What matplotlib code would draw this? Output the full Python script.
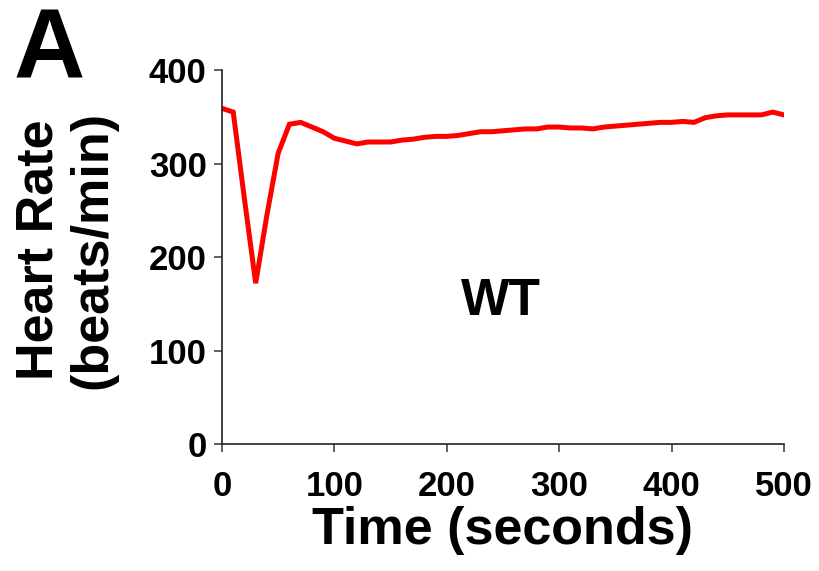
import matplotlib
matplotlib.use("Agg")
import matplotlib.pyplot as plt

time_s = list(range(0, 501, 10))
heart_rate = [359, 355, 262, 172, 245, 311, 342, 344, 339, 334,
              327, 324, 321, 323, 323, 323, 325, 326, 328, 329,
              329, 330, 332, 334, 334, 335, 336, 337, 337, 339,
              339, 338, 338, 337, 339, 340, 341, 342, 343, 344,
              344, 345, 344, 349, 351, 352, 352, 352, 352, 355, 352]
x_ticks = [0, 100, 200, 300, 400, 500]
y_ticks = [0, 100, 200, 300, 400]

plt.rcParams['font.family'] = ['Liberation Sans', 'DejaVu Sans']
fig = plt.figure(figsize=(8.2, 5.71), dpi=100)
ax = fig.add_axes([0.2707, 0.2224, 0.956 - 0.2707, 0.8774 - 0.2224])
ax.plot(time_s, heart_rate, color='#ff0000', lw=3.6, solid_joinstyle='miter')
ax.set_xlim(0, 500)
ax.set_ylim(0, 400)
ax.set_xticks(x_ticks)
ax.set_yticks(y_ticks)
for s in ['top', 'right']:
    ax.spines[s].set_visible(False)
for s in ['left', 'bottom']:
    ax.spines[s].set_color('#222222')
    ax.spines[s].set_linewidth(1.2)
ax.tick_params(direction='out', length=6, width=1.2, color='#444444',
               labelsize=25)
ax.tick_params(axis='x', pad=13)
ax.tick_params(axis='y', pad=5)
for lab in ax.get_xticklabels() + ax.get_yticklabels():
    lab.set_fontweight('bold')
ax.set_xlabel('Time (seconds)', fontsize=37.5, fontweight='bold', labelpad=2)
fig.text(66 / 820, 1 - 250 / 571, 'Heart Rate\n(beats/min)', fontsize=37.5,
         fontweight='bold', rotation=90, ha='center', va='center',
         multialignment='center', linespacing=1.12)
ax.text(248, 138, 'WT', fontsize=37, fontweight='bold', ha='center', va='baseline')
fig.text(0.016, 1 - 77 / 571, 'A', fontsize=71, fontweight='bold', ha='left', va='baseline')
fig.savefig('out.png', dpi=100)
